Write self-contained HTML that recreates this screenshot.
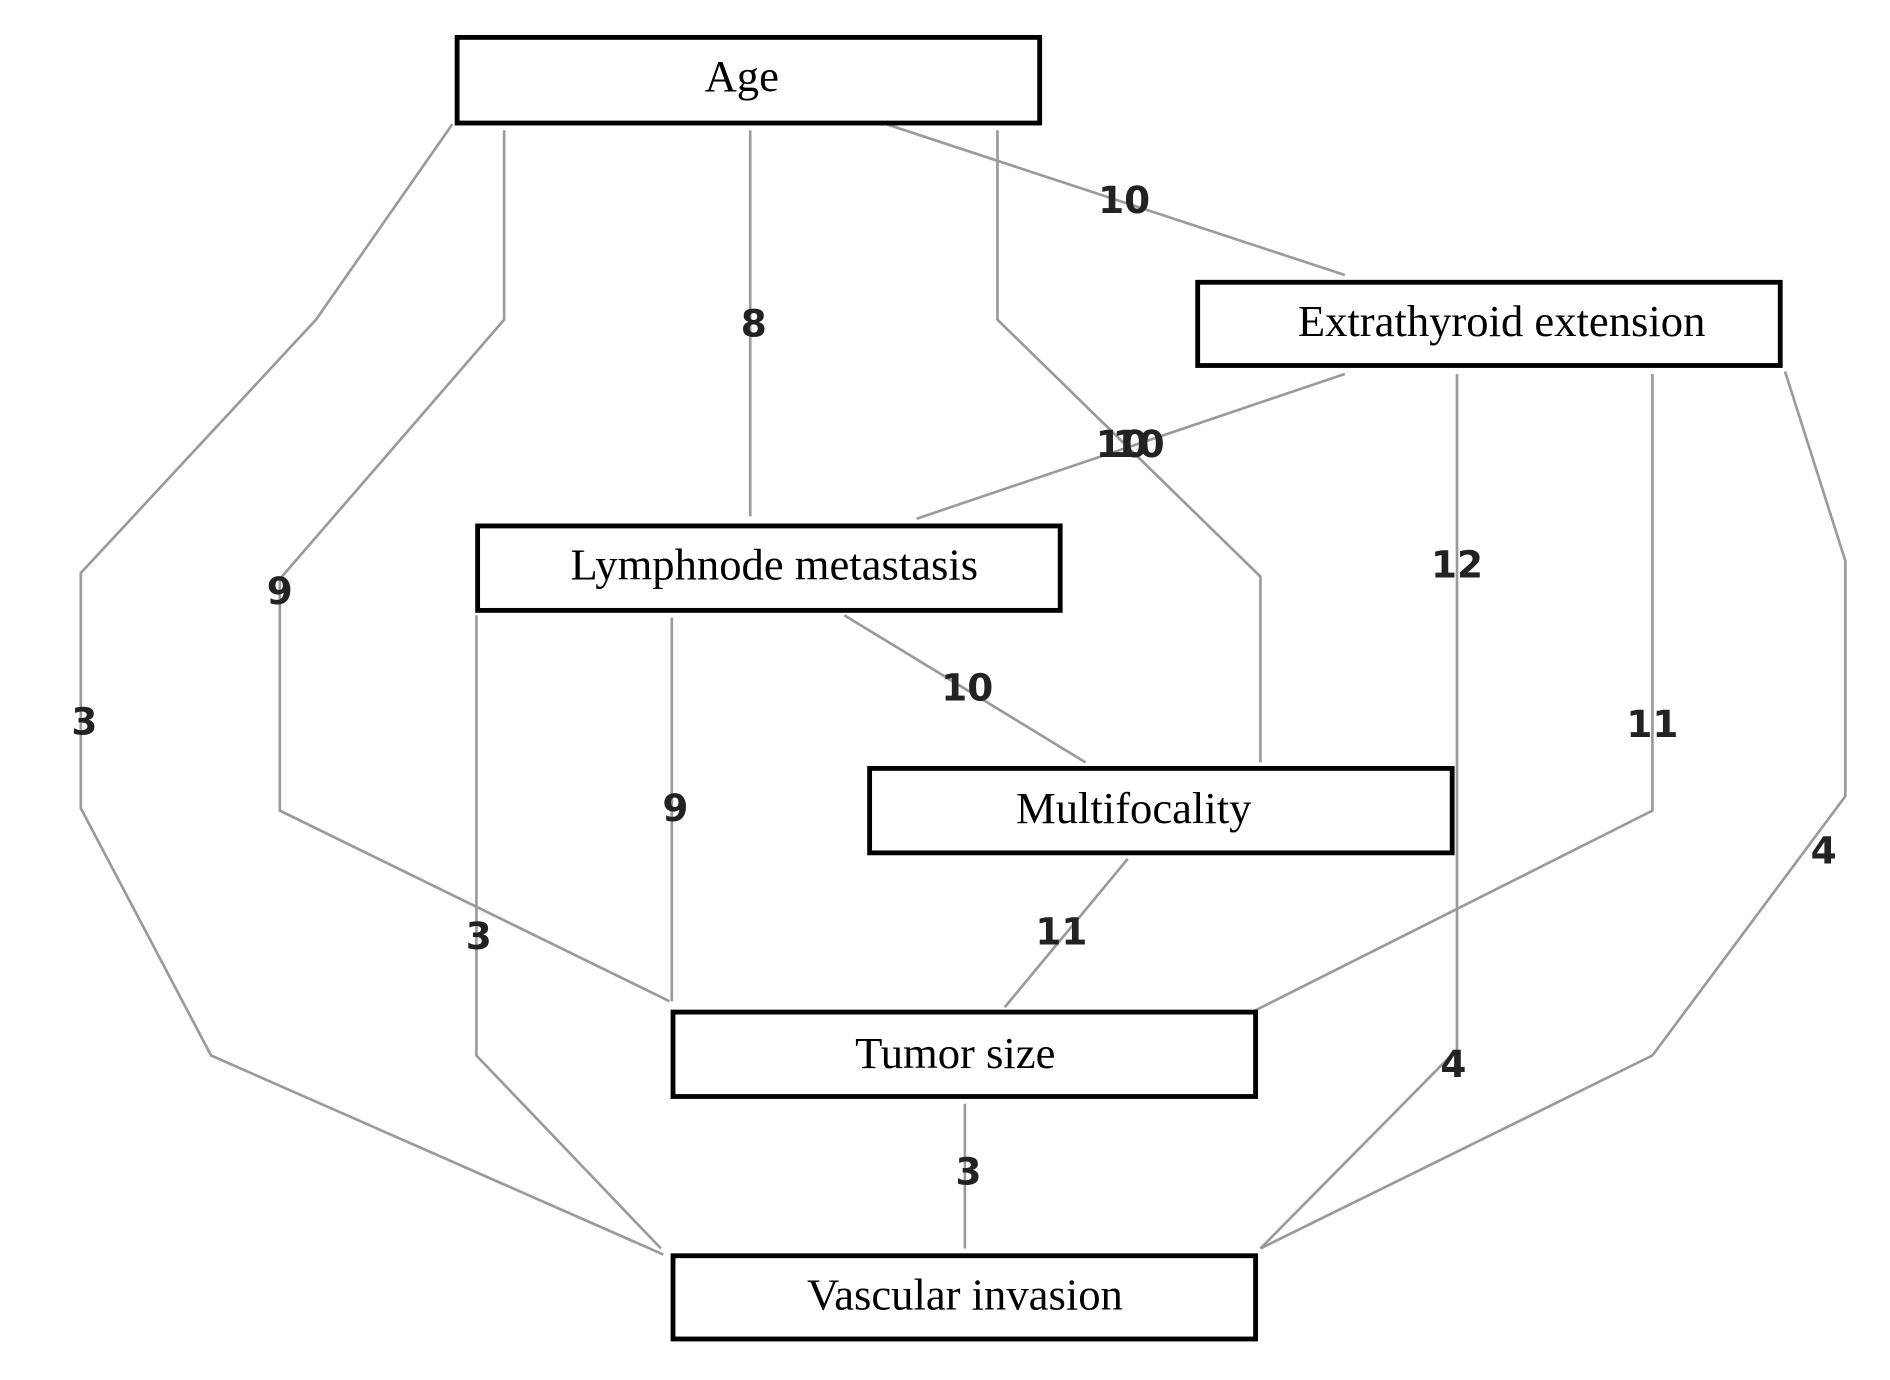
<!DOCTYPE html>
<html><head><style>
html,body{margin:0;padding:0;background:#fff;width:1890px;height:1380px;overflow:hidden}
svg{display:block}
.l{fill:none;stroke:#9a9a9a;stroke-width:2.2}
.n{font-family:"DejaVu Sans","Liberation Sans",sans-serif;font-weight:bold;font-size:31px;fill:#222;text-anchor:middle;dominant-baseline:central}
.b{fill:#fff;stroke:#000;stroke-width:4}
.t{font-family:"Liberation Serif",serif;font-size:37px;fill:#000;text-anchor:middle;dominant-baseline:central}
</style></head><body>
<svg width="1890" height="1380" viewBox="0 0 1567 1144" preserveAspectRatio="none">
<polyline class="l" points="375,103 262,265 67,475 67,670 175,875 550,1040"/>
<polyline class="l" points="418,108 418,265 232,480 232,672 555,830"/>
<polyline class="l" points="622,108 622,428"/>
<polyline class="l" points="827,108 827,265 1045,478 1045,632"/>
<polyline class="l" points="735,103 1115,228"/>
<polyline class="l" points="1115,310 760,430"/>
<polyline class="l" points="1208,310 1208,870 1045,1035"/>
<polyline class="l" points="1370,310 1370,672 1040,838"/>
<polyline class="l" points="1480,308 1530,465 1530,660 1370,875 1045,1035"/>
<polyline class="l" points="395,510 395,875 548,1035"/>
<polyline class="l" points="557,512 557,830"/>
<polyline class="l" points="700,510 900,632"/>
<polyline class="l" points="935,712 833,835"/>
<polyline class="l" points="800,915 800,1035"/>

<rect class="b" x="379" y="31" width="483" height="71"/><text class="t" x="615" y="63">Age</text>
<rect class="b" x="993" y="234" width="483" height="69"/><text class="t" x="1245" y="266">Extrathyroid extension</text>
<rect class="b" x="396" y="436" width="483" height="70"/><text class="t" x="642" y="468">Lymphnode metastasis</text>
<rect class="b" x="721" y="637" width="483" height="70"/><text class="t" x="940" y="670">Multifocality</text>
<rect class="b" x="558" y="839" width="483" height="70"/><text class="t" x="792" y="873">Tumor size</text>
<rect class="b" x="558" y="1041" width="483" height="69"/><text class="t" x="800" y="1073">Vascular invasion</text>

<text class="n" x="70" y="598">3</text>
<text class="n" x="232" y="490">9</text>
<text class="n" x="625" y="268">8</text>
<text class="n" x="932" y="166">10</text>
<text class="n" x="930" y="368">10</text>
<text class="n" x="944" y="368">10</text>
<text class="n" x="1208" y="468">12</text>
<text class="n" x="1205" y="882">4</text>
<text class="n" x="1370" y="600">11</text>
<text class="n" x="1512" y="705">4</text>
<text class="n" x="397" y="776">3</text>
<text class="n" x="560" y="670">9</text>
<text class="n" x="802" y="570">10</text>
<text class="n" x="880" y="772">11</text>
<text class="n" x="803" y="971">3</text>
</svg>
</body></html>
